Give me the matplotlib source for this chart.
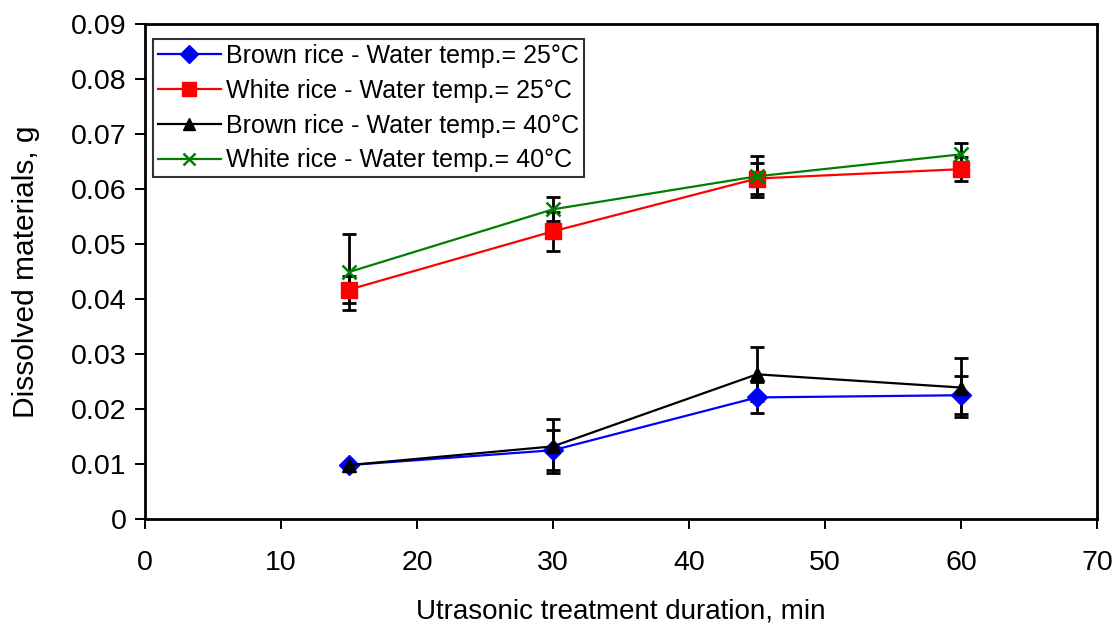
import matplotlib.pyplot as plt

plt.rcParams['font.family'] = ['Liberation Sans', 'DejaVu Sans']

# Durata del trattamento (min)
durata = [15, 30, 45, 60]

brown_25 = [0.0098, 0.0125, 0.0221, 0.0225]
brown_25_err = [0.0003, 0.0036, 0.0028, 0.0035]
white_25 = [0.0417, 0.0523, 0.0619, 0.0636]
white_25_err = [0.0024, 0.0036, 0.0029, 0.0022]
brown_40 = [0.0098, 0.0132, 0.0263, 0.0239]
brown_40_err = [0.0003, 0.0049, 0.0049, 0.0054]
white_40 = [0.0449, 0.0563, 0.0623, 0.0663]
white_40_err = [0.0069, 0.0022, 0.0037, 0.0021]

etichette = ['Brown rice - Water temp.= 25°C', 'White rice - Water temp.= 25°C',
             'Brown rice - Water temp.= 40°C', 'White rice - Water temp.= 40°C']

fig = plt.figure(figsize=(11.13, 6.24), dpi=100)
ax = fig.add_axes([0.1303, 0.1683, 0.8553, 0.7933])

serie = [
    (brown_25, brown_25_err, 'blue', 'D', 10.5),
    (white_25, white_25_err, 'red', 's', 11.5),
    (brown_40, brown_40_err, 'black', '^', 10),
    (white_40, white_40_err, 'green', 'x', 9.5),
]

handles = []
for (vals, err, col, mk, ms), lab in zip(serie, etichette):
    ax.errorbar(durata, vals, yerr=err, fmt='none', ecolor='black',
                elinewidth=2, capsize=5, capthick=2, zorder=2)
    h, = ax.plot(durata, vals, color=col, marker=mk, markersize=ms,
                 markeredgewidth=1.8 if mk == 'x' else 1, lw=1.6,
                 label=lab, zorder=3)
    handles.append(h)

ax.set_xlim(0, 70)
ax.set_ylim(0, 0.09)
ax.set_xticks(range(0, 71, 10))
ax.set_yticks([i / 100 for i in range(10)])
ax.set_yticklabels(['0'] + ['%.2f' % (i / 100) for i in range(1, 10)])
ax.tick_params(axis='both', labelsize=20.5, direction='out', length=7.5, width=1.4)
ax.tick_params(axis='x', pad=15)
ax.tick_params(axis='y', pad=6)

for sp in ax.spines.values():
    sp.set_linewidth(2)

ax.set_xlabel('Utrasonic treatment duration, min', fontsize=20, labelpad=16)
ax.set_ylabel('Dissolved materials, g', fontsize=21.5, labelpad=22)

leg = ax.legend(handles=handles, loc='upper left', fontsize=18,
                bbox_to_anchor=(153 / 1113, 1 - 39 / 624),
                bbox_transform=fig.transFigure, borderaxespad=0,
                frameon=True, fancybox=False, edgecolor='black',
                handlelength=2.5, handletextpad=0.2, markerscale=0.85,
                labelspacing=0.43, borderpad=0.2)
leg.get_frame().set_linewidth(1.5)

fig.savefig('out.png', dpi=100)
